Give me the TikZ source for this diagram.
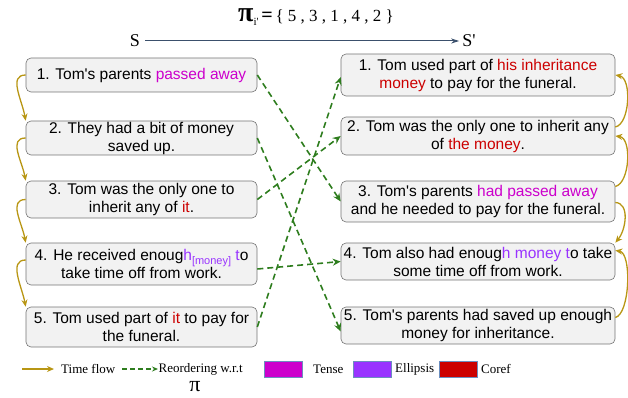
\documentclass[tikz,border=0pt]{standalone}
\usepackage{fontspec}
\setmainfont[Ligatures=TeXOff]{Liberation Serif}
\newfontfamily\boxfont[Ligatures=TeXOff]{Liberation Sans}
\usetikzlibrary{arrows.meta}
\definecolor{tense}{RGB}{204,0,204}
\definecolor{ell}{RGB}{153,51,255}
\definecolor{coref}{RGB}{204,0,0}
\definecolor{gold}{RGB}{184,150,20}
\definecolor{dgreen}{RGB}{46,125,30}
\definecolor{titlearrow}{RGB}{59,80,108}
\definecolor{legborder}{RGB}{108,142,191}
\tikzset{
  sbox/.style={draw=black!55, fill=black!5, rounded corners=5pt, line width=0.6pt, inner sep=0pt, align=center, font=\boxfont\fontsize{15.5}{18}\selectfont},
  lbox/.style={sbox, minimum width=231pt},
  rbox/.style={sbox, minimum width=274pt},
  tflow/.style={draw=gold, line width=1.3pt, -{Stealth[length=7pt,width=6pt]}},
  reord/.style={draw=dgreen, line width=1.6pt, dash pattern=on 6pt off 4pt, -{Stealth[length=8pt,width=7pt]}},
  legsq/.style={draw=legborder, line width=0.6pt, minimum width=38pt, minimum height=16pt, inner sep=0pt},
  legtext/.style={font=\fontsize{13}{15}\selectfont, inner sep=0pt, anchor=west}
}
\begin{document}
\begin{tikzpicture}[x=1pt,y=-1pt]
\useasboundingbox (0,0) rectangle (628,398);
% title
\node[inner sep=0pt] (pi) at (316,17) {\textbf{\fontsize{28}{28}\selectfont π}\raisebox{-4pt}{\fontsize{11}{11}\selectfont i'}\;\textbf{\fontsize{20}{20}\selectfont =}\;\fontsize{17}{17}\selectfont\{ 5 , 3 , 1 , 4 , 2 \}};
\node[inner sep=0pt, font=\fontsize{18}{18}\selectfont] (S) at (135,41) {S};
\node[inner sep=0pt, font=\fontsize{18}{18}\selectfont] (Sp) at (469,41) {S'};
\draw[titlearrow, line width=1pt, -{Stealth[length=8pt,width=5pt]}] ([xshift=5pt]S.east) -- ([xshift=-3pt]Sp.west);
% left boxes
\node[lbox, minimum height=34pt] (L1) at (141.5,75) {1. Tom's parents \textcolor{tense}{passed away}};
\node[lbox, minimum height=34pt] (L2) at (141.5,138) {2. They had a bit of money\\saved up.};
\node[lbox, minimum height=37pt] (L3) at (141.5,199.5) {3. Tom was the only one to\\inherit any of \textcolor{coref}{it}.};
\node[lbox, minimum height=42pt] (L4) at (141.5,264) {4. He received enoug\textcolor{ell}{h\raisebox{-3.5pt}{\fontsize{11}{11}\selectfont[money]} t}o\\take time off from work.};
\node[lbox, minimum height=40pt] (L5) at (141.5,327) {5. Tom used part of \textcolor{coref}{it} to pay for\\the funeral.};
% right boxes
\node[rbox, minimum height=42pt] (R1) at (478,75) {1. Tom used part of \textcolor{coref}{his inheritance}\\\textcolor{coref}{money} to pay for the funeral.};
\node[rbox, minimum height=38pt] (R2) at (478,136) {2. Tom was the only one to inherit any\\of \textcolor{coref}{the money}.};
\node[rbox, minimum height=41pt] (R3) at (478,201.5) {3. Tom's parents \textcolor{tense}{had passed away}\\and he needed to pay for the funeral.};
\node[rbox, minimum height=37pt] (R4) at (478,261.5) {4. Tom also had enoug\textcolor{ell}{h money t}o take\\some time off from work.};
\node[rbox, minimum height=37pt] (R5) at (478,325.5) {5. Tom's parents had saved up enough\\money for inheritance.};
% time flow left
\draw[tflow] (L1.west) .. controls (8,75) and (22,100) .. (L2.north west);
\draw[tflow] (L2.west) .. controls (8,138) and (22,161) .. (L3.north west);
\draw[tflow] (L3.west) .. controls (8,199.5) and (22,223) .. (L4.north west);
\draw[tflow] ([yshift=4pt]L4.west) .. controls (8,260) and (22,287) .. (L5.north west);
% time flow right
\draw[tflow] ([yshift=9pt]R2.east) .. controls (630,124) and (632,78) .. (R1.east);
\draw[tflow] ([yshift=15pt]R3.east) .. controls (630,183) and (632,138) .. (R2.east);
\draw[tflow] ([yshift=-1pt]R3.east) .. controls (630,203) and (626,230) .. (R4.north east);
\draw[tflow] ([yshift=8pt]R5.east) .. controls (630,314) and (632,253) .. ([yshift=11pt]R4.east);
% reordering
\draw[reord] (L1.east) -- (R3.west);
\draw[reord] (L2.east) -- ([yshift=-6pt]R5.west);
\draw[reord] (L3.east) -- (R2.west);
\draw[reord] ([yshift=-5pt]L4.east) -- (R4.west);
\draw[reord] (L5.east) -- ([yshift=-2pt]R1.west);
% legend
\coordinate (tfa) at (22,369);
\coordinate (tfb) at (54,369);
\draw[tflow, line width=1.2pt] (tfa) -- (tfb);
\node[legtext] (tft) at (61,369) {Time flow};
\coordinate (roa) at (122,369);
\coordinate (rob) at (158,369);
\draw[draw=dgreen, line width=1.4pt, dash pattern=on 5pt off 3pt, -{Stealth[length=6pt,width=5pt]}] (roa) -- (rob);
\node[legtext] (rot) at (158.5,369) {Reordering w.r.t};
\node[inner sep=0pt, font=\fontsize{22}{22}\selectfont] (rpi) at (195,387) {π};
\node[legsq, fill=tense] (sq1) at (283,369) {};
\node[legtext] (t1) at (313,369) {Tense};
\node[legsq, fill=ell] (sq2) at (372,369) {};
\node[legtext] (t2) at (395,369) {Ellipsis};
\node[legsq, fill=coref] (sq3) at (458,369) {};
\node[legtext] (t3) at (481,369) {Coref};
\end{tikzpicture}
\end{document}
